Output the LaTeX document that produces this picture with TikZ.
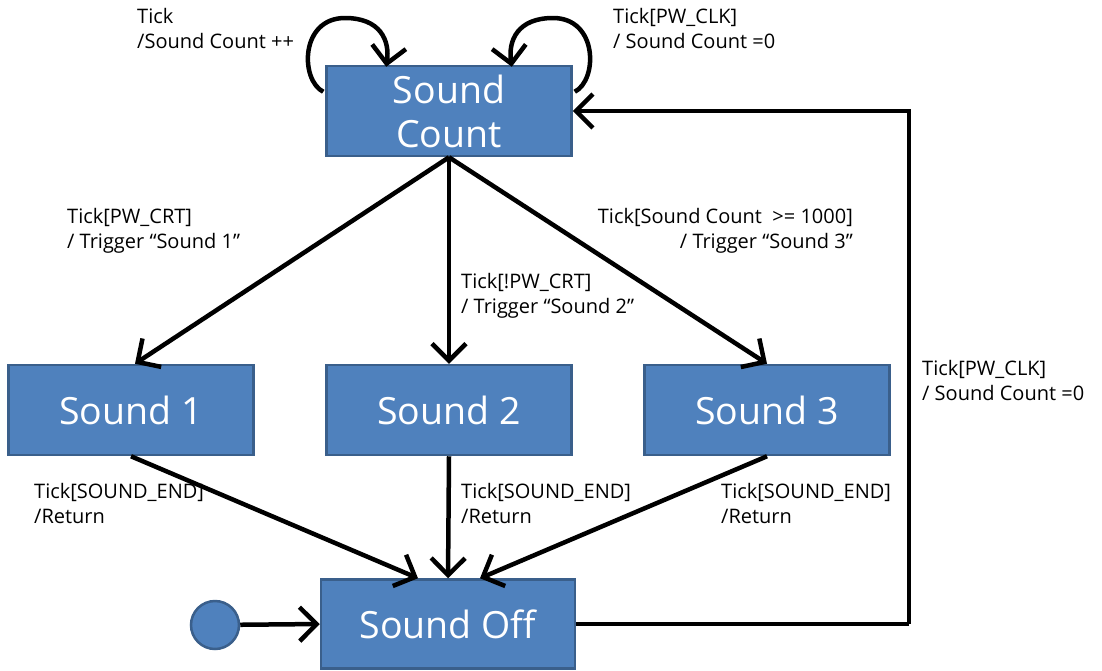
\documentclass[tikz,border=0pt]{standalone}
\usepackage{fontspec}
\setmainfont{Open Sans}
\usetikzlibrary{arrows.meta}
\definecolor{boxblue}{HTML}{4F81BD}
\definecolor{boxedge}{HTML}{3A5F8B}
\begin{document}
\begin{tikzpicture}[x=1pt,y=-1pt,
  state/.style={draw=boxedge,line width=2.5pt,fill=boxblue,text=white,
    minimum width=245pt,minimum height=90pt,inner sep=0pt,align=center,
    font=\fontsize{37.5}{44}\selectfont},
  lbl/.style={inner sep=0pt,anchor=north west,align=left,
    font=\fontsize{20}{25}\selectfont},
  conn/.style={line width=4.5pt,-{Straight Barb[length=17pt,width=34pt,line width=4.5pt]}},
  plain/.style={line width=4.5pt}
]
\useasboundingbox (0,0) rectangle (1102,670);
\node[state] (sc) at (449,111) {Sound\\Count};
\node[state] (s1) at (131,410) {Sound 1};
\node[state] (s2) at (449,410) {Sound 2};
\node[state] (s3) at (767,410) {Sound 3};
\node[state,minimum width=254pt,minimum height=89pt] (off) at (448,624) {Sound Off};
\node[circle,draw=boxedge,line width=2.5pt,fill=boxblue,minimum size=48pt,inner sep=0pt] (init) at (215,625) {};

% self loops
\draw[conn] ([xshift=-2pt,yshift=-27pt]sc.north west) .. controls (300,80) and (300,18) .. (345,18)
   .. controls (380,18) and (390,40) .. ([xshift=61pt,yshift=-2pt]sc.north west);
\draw[conn] ([xshift=2pt,yshift=-27pt]sc.north east) .. controls (598,80) and (598,18) .. (553,18)
   .. controls (518,18) and (508,40) .. ([xshift=-61pt,yshift=-2pt]sc.north east);

% triggers
\draw[conn] (sc.south) -- ([xshift=4pt]s1.north);
\draw[conn] (sc.south) -- (s2.north);
\draw[conn] (sc.south) -- (s3.north);

% returns
\draw[conn] (s1.south) -- ([xshift=-30pt]off.north);
\draw[conn] (s2.south) -- (off.north);
\draw[conn] (s3.south) -- ([xshift=32pt]off.north);

% initial
\draw[conn] (init) -- (off.west);

% back to Sound Count
\coordinate (corner) at (909,624);
\draw[plain] (off.east) -- (corner);
\draw[conn] (corner) |- (sc.east);

% labels
\node[lbl] (l1) at (137,8) {Tick\\/Sound Count ++};
\node[lbl] (l2) at (613,8) {Tick[PW\_CLK]\\/ Sound Count =0};
\node[lbl] (l3) at (67,208) {Tick[PW\_CRT]\\/ Trigger “Sound 1”};
\node[lbl] (l4) at (461,273) {Tick[!PW\_CRT]\\/ Trigger “Sound 2”};
\node[lbl,anchor=north east,align=right] (l5) at (853,208) {Tick[Sound Count~ >= 1000]\\/ Trigger “Sound 3”};
\node[lbl] (l6) at (922,360) {Tick[PW\_CLK]\\/ Sound Count =0};
\node[lbl] (l7) at (34,483) {Tick[SOUND\_END]\\/Return};
\node[lbl] (l8) at (461,483) {Tick[SOUND\_END]\\/Return};
\node[lbl] (l9) at (721,483) {Tick[SOUND\_END]\\/Return};
\end{tikzpicture}
\end{document}
